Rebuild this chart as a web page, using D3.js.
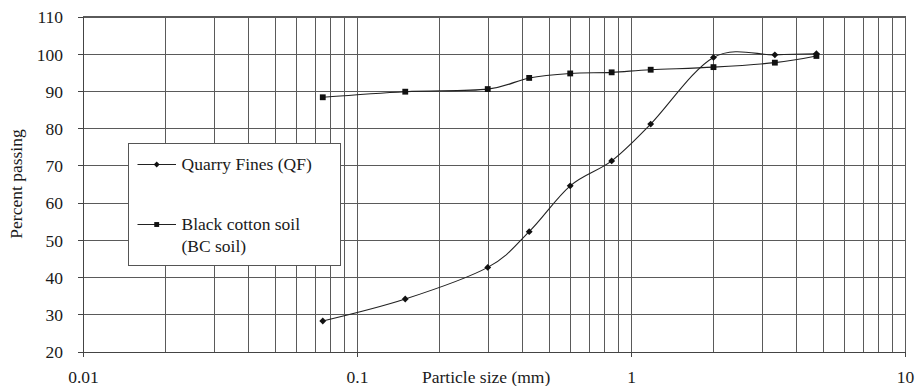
<!DOCTYPE html>
<html>
<head>
<meta charset="utf-8">
<script src="https://cdn.jsdelivr.net/npm/d3@7"></script>
<style>
  html, body { margin: 0; padding: 0; background: #fff; }
  svg { display: block; }
  text { font-family: "Liberation Serif", "Times New Roman", serif; fill: #1a1a1a; }
</style>
</head>
<body>
<svg id="chart" width="915" height="386"></svg>
<script>
// Sieve sizes (mm) and percent passing for each material
const sieveSizes = [0.075, 0.15, 0.3, 0.425, 0.6, 0.85, 1.18, 2.0, 3.35, 4.75];
const quarryFines = [28.2, 34.1, 42.6, 52.2, 64.5, 71.2, 81.1, 99.0, 99.7, 100.0];
const blackCotton = [88.3, 89.8, 90.5, 93.5, 94.7, 95.0, 95.7, 96.4, 97.6, 99.4];

const xMajorTicks = [0.01, 0.1, 1, 10];
const xTickLabels = ["0.01", "0.1", "1", "10"];
const yTicks = [20, 30, 40, 50, 60, 70, 80, 90, 100, 110];

const svg = d3.select("#chart");
const margin = { left: 83, right: 10, top: 16.5, bottom: 34.5 };
const W = 915, H = 386;
const x0 = margin.left, x1 = W - margin.right, y0 = margin.top, y1 = H - margin.bottom;

const x = d3.scaleLog().domain([0.01, 10]).range([x0, x1]);
const y = d3.scaleLinear().domain([20, 110]).range([y1, y0]);

// every 1..9 multiple of each decade for the log grid
const xGridValues = [];
[0.01, 0.1, 1].forEach(d => { for (let k = 1; k <= 9; k++) xGridValues.push(+(d * k).toPrecision(3)); });
xGridValues.push(10);

const gridColor = "#5a5a5a";

// vertical grid
const gx = svg.append("g")
  .attr("transform", `translate(0,${y1})`)
  .call(d3.axisBottom(x).tickValues(xGridValues).tickSize(-(y1 - y0)).tickFormat(""));
gx.select(".domain").remove();
gx.selectAll("line").attr("stroke", gridColor).attr("shape-rendering", "crispEdges");

// horizontal grid
const gy = svg.append("g")
  .attr("transform", `translate(${x0},0)`)
  .call(d3.axisLeft(y).tickValues(yTicks).tickSize(-(x1 - x0)).tickFormat(""));
gy.select(".domain").remove();
gy.selectAll("line").attr("stroke", gridColor).attr("shape-rendering", "crispEdges");

// x axis with decade ticks and labels
const ax = svg.append("g")
  .attr("transform", `translate(0,${y1})`)
  .call(d3.axisBottom(x).tickValues(xMajorTicks).tickSize(5).tickSizeOuter(0)
    .tickFormat((d, i) => xTickLabels[i]));
ax.select(".domain").attr("stroke", "#444").attr("shape-rendering", "crispEdges");
ax.selectAll("line").attr("stroke", "#444").attr("shape-rendering", "crispEdges");
ax.selectAll("text")
  .attr("y", 31.5).attr("dy", 0)
  .style("font-family", '"Liberation Serif", "Times New Roman", serif')
  .style("font-size", "17.5px").attr("fill", "#1a1a1a");

// y axis with labels
const ay = svg.append("g")
  .attr("transform", `translate(${x0},0)`)
  .call(d3.axisLeft(y).tickValues(yTicks).tickSize(5).tickSizeOuter(0).tickPadding(15));
ay.select(".domain").attr("stroke", "#444").attr("shape-rendering", "crispEdges");
ay.selectAll("line").attr("stroke", "#444").attr("shape-rendering", "crispEdges");
ay.selectAll("text")
  .attr("dy", "0.36em")
  .style("font-family", '"Liberation Serif", "Times New Roman", serif')
  .style("font-size", "17.5px").attr("fill", "#1a1a1a");

// top and right frame
svg.append("path")
  .attr("d", `M${x0},${y0}H${x1}V${y1}`)
  .attr("fill", "none").attr("stroke", gridColor).attr("shape-rendering", "crispEdges");

// axis titles
svg.append("text")
  .attr("x", 422).attr("y", 383)
  .style("font-size", "17.5px")
  .text("Particle size (mm)");

svg.append("text")
  .attr("transform", `translate(22,${(y0 + y1) / 2}) rotate(-90)`)
  .attr("text-anchor", "middle")
  .style("font-size", "17.5px")
  .text("Percent passing");

// smoothed curves
const line = d3.line()
  .x(d => x(d[0])).y(d => y(d[1]))
  .curve(d3.curveCardinal.tension(0));

const qfPts = sieveSizes.map((s, i) => [s, quarryFines[i]]);
const bcPts = sieveSizes.map((s, i) => [s, blackCotton[i]]);

svg.append("path").datum(bcPts).attr("d", line)
  .attr("fill", "none").attr("stroke", "#222").attr("stroke-width", 1.1);
svg.append("path").datum(qfPts).attr("d", line)
  .attr("fill", "none").attr("stroke", "#222").attr("stroke-width", 1.1);

const diamond = d3.symbol().type(d3.symbolDiamond2).size(30);
const square = d3.symbol().type(d3.symbolSquare).size(34);

svg.append("g").selectAll("path").data(qfPts).join("path")
  .attr("transform", d => `translate(${x(d[0])},${y(d[1])})`)
  .attr("d", diamond).attr("fill", "#111");

svg.append("g").selectAll("path").data(bcPts).join("path")
  .attr("transform", d => `translate(${x(d[0])},${y(d[1])})`)
  .attr("d", square).attr("fill", "#111");

// legend
const lg = svg.append("g");
lg.append("rect")
  .attr("x", 128.5).attr("y", 143.5).attr("width", 211.5).attr("height", 122)
  .attr("fill", "#fff").attr("stroke", "#555").attr("shape-rendering", "crispEdges");

lg.append("line").attr("x1", 137.5).attr("x2", 176).attr("y1", 164.5).attr("y2", 164.5)
  .attr("stroke", "#222");
lg.append("path").attr("transform", "translate(156.7,164.5)")
  .attr("d", d3.symbol().type(d3.symbolDiamond2).size(22)).attr("fill", "#111");
lg.append("text").attr("x", 181.5).attr("y", 169.5).style("font-size", "17.5px")
  .text("Quarry Fines (QF)");

lg.append("line").attr("x1", 137.5).attr("x2", 176).attr("y1", 224.5).attr("y2", 224.5)
  .attr("stroke", "#222");
lg.append("path").attr("transform", "translate(156.7,224.5)")
  .attr("d", d3.symbol().type(d3.symbolSquare).size(24)).attr("fill", "#111");
const t2 = lg.append("text").attr("x", 181.5).attr("y", 230).style("font-size", "17.5px");
t2.append("tspan").attr("x", 181.5).text("Black cotton soil");
t2.append("tspan").attr("x", 181.5).attr("dy", 21.7).text("(BC soil)");
</script>
</body>
</html>
